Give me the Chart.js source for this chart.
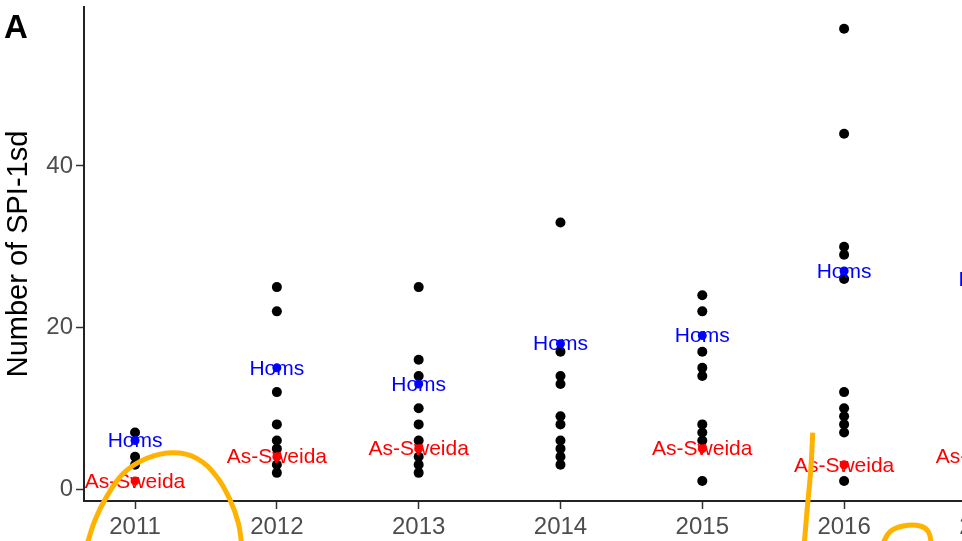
<!DOCTYPE html>
<html>
<head>
<meta charset="utf-8">
<script src="https://cdn.jsdelivr.net/npm/chart.js@4/dist/chart.umd.min.js"></script>
<style>
  html, body { margin: 0; padding: 0; background: #fff; overflow: hidden; width: 962px; height: 541px; }
  #myChart { display: block; }
</style>
</head>
<body>
<canvas id="myChart" width="1100" height="541"></canvas>
<script>
// other districts, one list per year
const counts2011 = [7, 4, 3];
const counts2012 = [25, 22, 12, 8, 6, 5, 3, 2];
const counts2013 = [25, 16, 14, 10, 8, 6, 4, 3, 2];
const counts2014 = [33, 17, 14, 13, 9, 8, 6, 5, 4, 3];
const counts2015 = [24, 22, 17, 15, 14, 8, 7, 6, 1];
const counts2016 = [57, 44, 30, 29, 26, 12, 10, 9, 8, 7, 1];

// highlighted districts
const homsYears = [2011, 2012, 2013, 2014, 2015, 2016, 2017];
const homsValues = [6, 15, 13, 18, 19, 27, 26];
const sweidaYears = [2011, 2012, 2013, 2015, 2016, 2017];
const sweidaValues = [1, 4, 5, 5, 3, 4];

const xTicks = [2011, 2012, 2013, 2014, 2015, 2016, 2017];
const yTicks = [0, 20, 40];

// hand drawn yellow strokes on the figure (in data units)
const stroke1 = [[2010.659, -7], [2010.718, -3.84], [2010.800, -0.95], [2010.918, 1.94], [2011.083, 3.80],
  [2011.270, 4.50], [2011.435, 3.80], [2011.576, 1.52], [2011.670, -1.36], [2011.729, -4.25], [2011.753, -7]];
const stroke2 = [[2015.779, 6.97], [2015.765, 2.35], [2015.741, -2.19], [2015.718, -7]];
const stroke3 = [[2016.266, -7], [2016.324, -5.29], [2016.418, -4.58], [2016.536, -4.58], [2016.594, -5.29], [2016.618, -7]];

const perYear = [counts2011, counts2012, counts2013, counts2014, counts2015, counts2016];
const blackPoints = [];
perYear.forEach(function (list, i) {
  list.forEach(function (v) { blackPoints.push({ x: xTicks[i], y: v }); });
});
const homsPoints = homsYears.map(function (y, i) { return { x: y, y: homsValues[i] }; });
const sweidaPoints = sweidaYears.map(function (y, i) { return { x: y, y: sweidaValues[i] }; });
const toXY = function (s) { return s.map(function (p) { return { x: p[0], y: p[1] }; }); };

const FONT = "'Liberation Sans', Arial, sans-serif";

const labelPlugin = {
  id: "labels",
  afterDatasetDraw: function (chart, args) {
    if (args.index !== 3) return; // after the black points
    const ctx = chart.ctx;
    const xs = chart.scales.x, ys = chart.scales.y;
    ctx.save();
    ctx.font = "21px " + FONT;
    ctx.textAlign = "center";
    ctx.textBaseline = "middle";
    ctx.fillStyle = "#0000FF";
    homsPoints.forEach(function (p) {
      ctx.fillText("Homs", xs.getPixelForValue(p.x), ys.getPixelForValue(p.y) + 1);
    });
    ctx.fillStyle = "#FF0000";
    sweidaPoints.forEach(function (p) {
      ctx.fillText("As-Sweida", xs.getPixelForValue(p.x), ys.getPixelForValue(p.y) + 1);
    });
    ctx.restore();
  },
  afterDraw: function (chart) {
    const ctx = chart.ctx;
    ctx.save();
    ctx.font = "bold 33px " + FONT;
    ctx.fillStyle = "#000";
    ctx.textAlign = "left";
    ctx.textBaseline = "alphabetic";
    ctx.fillText("A", 4, 38);
    ctx.restore();
  }
};

const strokeStyle = {
  type: "line",
  borderColor: "#FFB300",
  borderWidth: 5,
  pointRadius: 0,
  tension: 0.4,
  fill: false,
  clip: false,
  order: 0
};

const ctx = document.getElementById("myChart").getContext("2d");
const chart = new Chart(ctx, {
  type: "scatter",
  data: {
    datasets: [
      Object.assign({ data: toXY(stroke1) }, strokeStyle),
      Object.assign({ data: toXY(stroke2) }, strokeStyle),
      Object.assign({ data: toXY(stroke3) }, strokeStyle),
      {
        label: "other",
        data: blackPoints,
        backgroundColor: "#000",
        borderWidth: 0,
        pointRadius: 5,
        order: 3
      },
      {
        label: "Homs",
        data: homsPoints,
        backgroundColor: "#0000FF",
        borderWidth: 0,
        pointRadius: 4.5,
        clip: false,
        order: 1
      },
      {
        label: "As-Sweida",
        data: sweidaPoints,
        backgroundColor: "#FF0000",
        borderWidth: 0,
        pointRadius: 4.5,
        clip: false,
        order: 1
      }
    ]
  },
  options: {
    responsive: false,
    animation: false,
    layout: { padding: { top: 7, right: 10, left: 0, bottom: 0 } },
    plugins: { legend: { display: false }, tooltip: { enabled: false } },
    scales: {
      x: {
        type: "linear",
        min: 2010.64,
        max: 2017.734,
        afterBuildTicks: function (scale) { scale.ticks = xTicks.map(function (v) { return { value: v }; }); },
        afterFit: function (scale) { scale.height = 40; scale.paddingLeft = 0; scale.paddingRight = 0; },
        grid: { drawOnChartArea: false, drawTicks: true, tickLength: 8, tickWidth: 1.5, tickColor: "#333" },
        border: { display: true, color: "#222", width: 2 },
        ticks: {
          color: "#4D4D4D",
          padding: 4,
          maxRotation: 0,
          font: { family: FONT, size: 24 },
          callback: function (v) { return String(v); }
        }
      },
      y: {
        type: "linear",
        min: -1.486,
        max: 59.69,
        afterBuildTicks: function (scale) { scale.ticks = yTicks.map(function (v) { return { value: v }; }); },
        afterFit: function (scale) { scale.width = 84; scale.paddingTop = 0; scale.paddingBottom = 0; },
        grid: { drawOnChartArea: false, drawTicks: true, tickLength: 8, tickWidth: 1.5, tickColor: "#333" },
        border: { display: true, color: "#222", width: 2 },
        ticks: {
          color: "#4D4D4D",
          padding: 3,
          font: { family: FONT, size: 24 }
        },
        title: {
          display: true,
          text: "Number of SPI-1sd",
          color: "#000",
          font: { family: FONT, size: 29 },
          padding: { top: 2, bottom: 0 }
        }
      }
    }
  },
  plugins: [labelPlugin]
});
</script>
</body>
</html>
